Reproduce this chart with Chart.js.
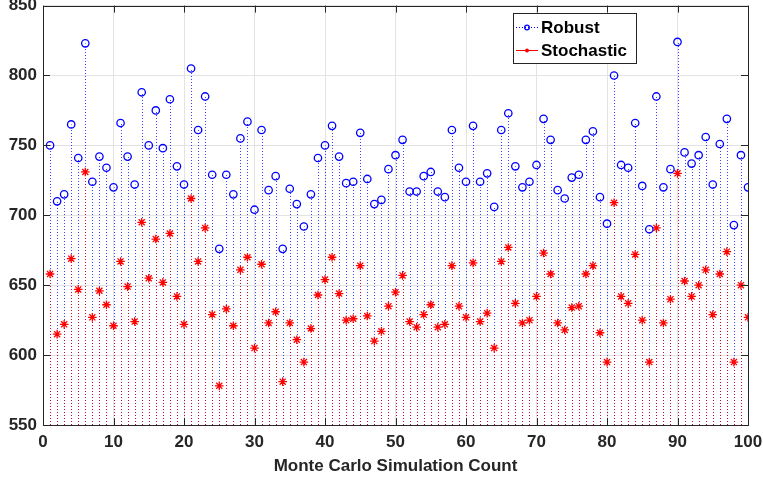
<!DOCTYPE html>
<html>
<head>
<meta charset="utf-8">
<script src="https://cdn.jsdelivr.net/npm/chart.js@4"></script>
<style>
  html, body { margin: 0; padding: 0; background: #fff; }
  #wrap { width: 763px; height: 483px; }
</style>
</head>
<body>
<div id="wrap"><canvas id="stemChart"></canvas></div>
<script>
// Monte Carlo run numbers 1..100
const runs = [];
for (let i = 1; i <= 100; i++) runs.push(i);

// Robust (blue circles)
const robust = [
  750, 710, 715, 765, 741, 823, 724, 742, 734, 720,
  766, 742, 722, 788, 750, 775, 748, 783, 735, 722,
  805, 761, 785, 729, 676, 729, 715, 755, 767, 704,
  761, 718, 728, 676, 719, 708, 692, 715, 741, 750,
  764, 742, 723, 724, 759, 726, 708, 711, 733, 743,
  754, 717, 717, 728, 731, 717, 713, 761, 734, 724,
  764, 724, 730, 706, 761, 773, 735, 720, 724, 736,
  769, 754, 718, 712, 727, 729, 754, 760, 713, 694,
  800, 736, 734, 766, 721, 690, 785, 720, 733, 824,
  745, 737, 743, 756, 722, 751, 769, 693, 743, 720
];

// Stochastic (red stars)
const stochastic = [
  658, 615, 622, 669, 647, 731, 627, 646, 636, 621,
  667, 649, 624, 695, 655, 683, 652, 687, 642, 622,
  712, 667, 691, 629, 578, 633, 621, 661, 670, 605,
  665, 623, 631, 581, 623, 611, 595, 619, 643, 654,
  670, 644, 625, 626, 664, 628, 610, 617, 635, 645,
  657, 624, 620, 629, 636, 620, 622, 664, 635, 627,
  666, 624, 630, 605, 667, 677, 637, 623, 625, 642,
  673, 658, 623, 618, 634, 635, 658, 664, 616, 595,
  709, 642, 637, 672, 625, 595, 691, 623, 640, 730,
  653, 642, 650, 661, 629, 658, 674, 595, 650, 627
];

const xTicks = [0, 10, 20, 30, 40, 50, 60, 70, 80, 90, 100];
const yTicks = [550, 600, 650, 700, 750, 800, 850];

const legendNames = ['Robust', 'Stochastic'];

const font = 'Liberation Sans, Arial, Helvetica, sans-serif';

// dotted stems from the axis floor up to each marker
const stemPlugin = {
    id: 'stems',
    beforeDatasetsDraw(chart) {
        const ctx = chart.ctx;
        const bottom = chart.scales.y.getPixelForValue(yTicks[0]);
        const colors = ['rgba(0,0,255,0.75)', 'rgba(210,0,50,0.9)'];
        ctx.save();
        ctx.lineWidth = 1;
        ctx.setLineDash([1, 2]);
        chart.data.datasets.forEach((ds, di) => {
            const meta = chart.getDatasetMeta(di);
            ctx.strokeStyle = colors[di];
            meta.data.forEach(pt => {
                ctx.beginPath();
                ctx.moveTo(Math.round(pt.x) + 0.5, bottom);
                ctx.lineTo(Math.round(pt.x) + 0.5, pt.y);
                ctx.stroke();
            });
        });
        ctx.restore();
    }
};

// box, inward ticks and the inside legend (MATLAB look)
const framePlugin = {
    id: 'frame',
    afterDraw(chart) {
        const ctx = chart.ctx;
        const a = chart.chartArea;
        const xs = chart.scales.x, ys = chart.scales.y;
        ctx.save();
        ctx.strokeStyle = '#262626';
        ctx.lineWidth = 1;
        ctx.strokeRect(Math.round(a.left) + 0.5, Math.round(a.top) + 0.5,
            Math.round(a.right - a.left), Math.round(a.bottom - a.top));
        ctx.beginPath();
        xTicks.forEach(t => {
            const px = Math.round(xs.getPixelForValue(t)) + 0.5;
            ctx.moveTo(px, a.bottom); ctx.lineTo(px, a.bottom - 7);
            ctx.moveTo(px, a.top); ctx.lineTo(px, a.top + 7);
        });
        yTicks.forEach(t => {
            const py = Math.round(ys.getPixelForValue(t)) + 0.5;
            ctx.moveTo(a.left, py); ctx.lineTo(a.left + 7, py);
            ctx.moveTo(a.right, py); ctx.lineTo(a.right - 7, py);
        });
        ctx.stroke();

        // legend
        const lx = 513, ly = 13, lw = 123, lh = 50;
        ctx.fillStyle = '#fff';
        ctx.fillRect(lx, ly, lw, lh);
        ctx.strokeStyle = '#262626';
        ctx.strokeRect(lx + 0.5, ly + 0.5, lw, lh);
        const rows = [ly + 14.5, ly + 37.5];
        // robust sample
        ctx.strokeStyle = '#0000ff';
        ctx.setLineDash([1, 2]);
        ctx.beginPath();
        ctx.moveTo(lx + 3, rows[0]); ctx.lineTo(lx + 25, rows[0]);
        ctx.stroke();
        ctx.setLineDash([]);
        ctx.lineWidth = 1.3;
        ctx.beginPath();
        ctx.arc(lx + 14, rows[0], 2.3, 0, Math.PI * 2);
        ctx.stroke();
        // stochastic sample
        ctx.strokeStyle = '#ff0000';
        ctx.lineWidth = 1;
        ctx.beginPath();
        ctx.moveTo(lx + 3, rows[1]); ctx.lineTo(lx + 25, rows[1]);
        ctx.stroke();
        ctx.fillStyle = '#ff0000';
        ctx.beginPath();
        ctx.arc(lx + 14, rows[1], 2, 0, Math.PI * 2);
        ctx.fill();

        ctx.fillStyle = '#000';
        ctx.font = 'bold 17px ' + font;
        ctx.textBaseline = 'middle';
        ctx.textAlign = 'left';
        ctx.fillText(legendNames[0], lx + 28, rows[0] + 1);
        ctx.fillText(legendNames[1], lx + 28, rows[1] + 1);
        ctx.restore();
    }
};

const ctx = document.getElementById('stemChart').getContext('2d');
new Chart(ctx, {
    type: 'line',
    data: {
        labels: runs,
        datasets: [
            {
                label: legendNames[0],
                data: runs.map((r, i) => ({ x: r, y: robust[i] })),
                showLine: false,
                pointStyle: 'circle',
                pointRadius: 3.7,
                pointBorderWidth: 1.3,
                pointBorderColor: '#0000ff',
                pointBackgroundColor: 'rgba(0,0,0,0)'
            },
            {
                label: legendNames[1],
                data: runs.map((r, i) => ({ x: r, y: stochastic[i] })),
                showLine: false,
                pointStyle: 'star',
                pointRadius: 4.3,
                pointBorderWidth: 1.3,
                pointBorderColor: '#ff0000',
                pointBackgroundColor: '#ff0000'
            }
        ]
    },
    options: {
        responsive: true,
        maintainAspectRatio: false,
        animation: false,
        layout: { padding: { top: 5, right: 15, left: 0, bottom: 0 } },
        plugins: {
            legend: { display: false },
            tooltip: { enabled: false }
        },
        scales: {
            x: {
                type: 'linear',
                min: 0,
                max: 100,
                afterBuildTicks: s => { s.ticks = xTicks.map(v => ({ value: v })); },
                afterFit: s => { s.height = 58; s.paddingLeft = 0; s.paddingRight = 0; },
                grid: { color: '#e3e3e3', drawTicks: false },
                border: { display: false },
                ticks: {
                    color: '#262626',
                    padding: 7,
                    maxRotation: 0,
                    font: { family: font, size: 17, weight: 'bold' }
                },
                title: {
                    display: true,
                    text: 'Monte Carlo Simulation Count',
                    color: '#262626',
                    padding: { top: 0, bottom: 6 },
                    font: { family: font, size: 17, weight: 'bold' }
                }
            },
            y: {
                min: 550,
                max: 850,
                afterBuildTicks: s => { s.ticks = yTicks.map(v => ({ value: v })); },
                afterFit: s => { s.width = 43; s.paddingTop = 0; s.paddingBottom = 0; },
                grid: { color: '#e3e3e3', drawTicks: false },
                border: { display: false },
                ticks: {
                    color: '#262626',
                    padding: 6,
                    font: { family: font, size: 17, weight: 'bold' }
                }
            }
        }
    },
    plugins: [stemPlugin, framePlugin]
});
</script>
</body>
</html>
